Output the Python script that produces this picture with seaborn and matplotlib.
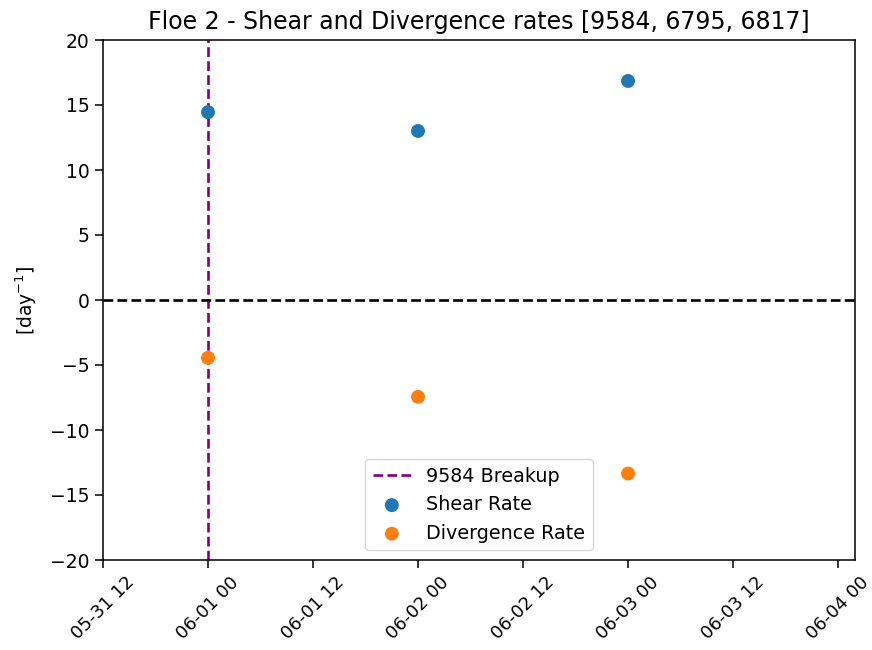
import matplotlib
matplotlib.use("Agg")
import matplotlib.pyplot as plt
import matplotlib.dates as mdates
import seaborn as sns
import pandas as pd
import numpy as np

dates = ["2023-06-01 00:00", "2023-06-02 00:00", "2023-06-03 00:00"]
shear_rate = [14.45, 13.0, 16.85]
divergence_rate = [-4.45, -7.45, -13.35]
breakup_time = "2023-06-01 00:00"
title = "Floe 2 - Shear and Divergence rates [9584, 6795, 6817]"

df = pd.DataFrame({
    "time": pd.to_datetime(dates),
    "shear": shear_rate,
    "div": divergence_rate,
})

fig = plt.figure(figsize=(8.72, 6.5), dpi=100)
ax = fig.add_axes([103/872, 1-560/650, (855-103)/872, 520/650])

ax.axvline(pd.to_datetime(breakup_time), color="purple", ls="--", lw=1.9, label="9584 Breakup")
ax.axhline(0, color="black", ls="--", lw=1.9)
sns.scatterplot(data=df, x="time", y="shear", ax=ax, s=100, color="#1f77b4",
                edgecolor="none", label="Shear Rate", zorder=3)
sns.scatterplot(data=df, x="time", y="div", ax=ax, s=100, color="#ff7f0e",
                edgecolor="none", label="Divergence Rate", zorder=3)

ax.set_ylim(-20, 20)
ax.set_xlim(pd.Timestamp("2023-05-31 12:00"), pd.Timestamp("2023-06-04 01:56"))
ax.xaxis.set_major_locator(mdates.HourLocator(byhour=[0, 12]))
ax.xaxis.set_major_formatter(mdates.DateFormatter("%m-%d %H"))
ax.tick_params(axis="y", labelsize=13.5, length=6, width=1.1)
ax.tick_params(axis="x", labelsize=13, length=6, width=1.1)
plt.setp(ax.get_xticklabels(), rotation=45)
for sp in ax.spines.values():
    sp.set_linewidth(1.1)
ax.set_xlabel("")
ax.set_ylabel("[day$^{-1}$]", fontsize=13.5, labelpad=8)
ax.set_title(title, fontsize=17, pad=8)
ax.legend(loc="lower center", fontsize=13.8)

fig.savefig("out.png", dpi=100)
